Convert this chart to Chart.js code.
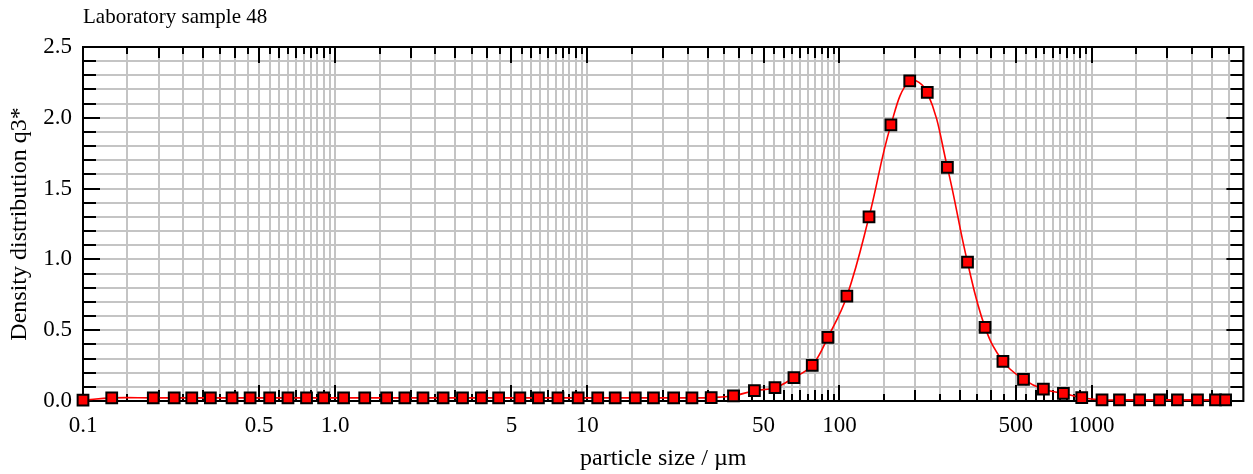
<!DOCTYPE html>
<html>
<head>
<meta charset="utf-8">
<title>Laboratory sample 48</title>
<script src="https://cdn.jsdelivr.net/npm/chart.js@4.4.1/dist/chart.umd.min.js"></script>
<style>
  html, body { margin: 0; padding: 0; background: #fff; }
  #wrap { width: 1253px; height: 474px; }
</style>
</head>
<body>
<div id="wrap"><canvas id="chart" width="1253" height="474"></canvas></div>
<script>
// Data
const particleSize = [
  0.1, 0.13, 0.19, 0.23, 0.27, 0.32, 0.39, 0.46, 0.55, 0.65, 0.77, 0.9,
  1.08, 1.31, 1.6, 1.89, 2.23, 2.68, 3.2, 3.8, 4.45, 5.4, 6.4, 7.65, 9.2,
  11, 12.9, 15.5, 18.3, 22, 26, 31, 38, 46, 55.5, 66, 78, 90,
  107, 131, 160, 190, 223, 268, 322, 378, 445, 537, 644, 773, 914,
  1100, 1290, 1550, 1860, 2190, 2630, 3100, 3400
];
const densityQ3 = [
  0.006, 0.022, 0.022, 0.022, 0.022, 0.022, 0.022, 0.022, 0.022, 0.022, 0.022, 0.022,
  0.022, 0.022, 0.022, 0.022, 0.022, 0.022, 0.022, 0.022, 0.022, 0.022, 0.022, 0.022, 0.022,
  0.022, 0.022, 0.022, 0.022, 0.022, 0.022, 0.024, 0.037, 0.073, 0.094, 0.165, 0.252, 0.45,
  0.74, 1.30, 1.95, 2.26, 2.18, 1.65, 0.98, 0.52, 0.28, 0.153, 0.083, 0.054, 0.023,
  0.008, 0.008, 0.008, 0.008, 0.008, 0.008, 0.008, 0.008
];

// Axis settings
const xMin = 0.1, xMax = 4000;
const yMin = 0, yMax = 2.5, yStep = 0.1;
const decades = [0.1, 1, 10, 100, 1000];
const gridSteps = [1, 1.5, 2, 2.5, 3, 3.5, 4, 4.5, 5, 5.5, 6, 6.5, 7, 7.5, 8, 8.5, 9, 9.5];
const xLabelValues = [0.1, 0.5, 1, 5, 10, 50, 100, 500, 1000];
const xLabelTexts = ['0.1', '0.5', '1.0', '5', '10', '50', '100', '500', '1000'];

const FONT = '"Liberation Serif", "Times New Roman", serif';

function mantissa(v) {
  const e = Math.floor(Math.log10(v) + 1e-9);
  return Math.round(v / Math.pow(10, e) * 100) / 100;
}

function xTickLength(v) {
  const m = mantissa(v);
  if (m === 1 || m === 5) return 16;
  if (Number.isInteger(m)) return 11;
  return 7;
}

function isHalfStep(v) {
  return Math.abs(v * 2 - Math.round(v * 2)) < 1e-6;
}

// Frame and inward tick marks on all four sides
const innerTicks = {
  id: 'innerTicks',
  beforeDatasetsDraw(chart) {
    const { ctx, chartArea: a, scales: { x, y } } = chart;
    ctx.save();
    ctx.strokeStyle = '#000';
    ctx.lineWidth = 2;
    ctx.beginPath();
    x.ticks.forEach(t => {
      const px = Math.round(x.getPixelForValue(t.value));
      if (px <= a.left + 1 || px >= a.right - 1) return;
      const len = xTickLength(t.value);
      ctx.moveTo(px, a.bottom); ctx.lineTo(px, a.bottom - len);
      ctx.moveTo(px, a.top); ctx.lineTo(px, a.top + len);
    });
    y.ticks.forEach(t => {
      const py = Math.round(y.getPixelForValue(t.value));
      if (py <= a.top + 1 || py >= a.bottom - 1) return;
      const len = isHalfStep(t.value) ? 17 : 13;
      ctx.moveTo(a.left, py); ctx.lineTo(a.left + len, py);
      ctx.moveTo(a.right, py); ctx.lineTo(a.right - len, py);
    });
    ctx.stroke();
    ctx.strokeRect(a.left, a.top, a.right - a.left, a.bottom - a.top);
    ctx.restore();
  }
};

const ctx = document.getElementById('chart');

new Chart(ctx, {
  type: 'line',
  data: {
    datasets: [{
      data: particleSize.map((s, i) => ({ x: s, y: densityQ3[i] })),
      borderColor: '#ff0000',
      borderWidth: 1.6,
      tension: 0.4,
      pointStyle: 'rect',
      pointRadius: 7.6,
      pointBackgroundColor: '#ff0000',
      pointBorderColor: '#000000',
      pointBorderWidth: 2,
      clip: false
    }]
  },
  options: {
    responsive: false,
    animation: false,
    layout: { padding: { left: 0, right: 8, top: 0, bottom: 0 } },
    plugins: {
      legend: { display: false },
      tooltip: { enabled: false },
      title: {
        display: true,
        text: 'Laboratory sample 48',
        align: 'start',
        fullSize: false,
        color: '#000',
        font: { family: FONT, size: 21, weight: 'normal' },
        padding: { top: 5, bottom: 16.8 }
      }
    },
    scales: {
      x: {
        type: 'logarithmic',
        min: xMin,
        max: xMax,
        afterBuildTicks(scale) {
          const vals = [];
          decades.forEach(d => gridSteps.forEach(s => {
            const v = +(s * d).toPrecision(6);
            if (v >= xMin && v <= xMax) vals.push(v);
          }));
          vals.push(xMax);
          scale.ticks = vals.map(v => ({ value: v }));
        },
        afterFit(scale) {
          scale.height = 73;
          scale.paddingRight = 0; // last tick has no label
        },
        grid: { color: '#c4c4c4', lineWidth: 2, drawTicks: false },
        border: { display: false },
        ticks: {
          autoSkip: false,
          maxRotation: 0,
          padding: 11,
          color: '#000',
          font: { family: FONT, size: 23 },
          callback(value) {
            const i = xLabelValues.findIndex(v => Math.abs(v - value) < 1e-9);
            return i >= 0 ? xLabelTexts[i] : '';
          }
        },
        title: {
          display: true,
          text: 'particle size / µm',
          color: '#000',
          font: { family: FONT, size: 24 },
          padding: { top: 0, bottom: 1 }
        }
      },
      y: {
        min: yMin,
        max: yMax,
        afterFit(scale) { scale.width = 83; },
        grid: { color: '#c4c4c4', lineWidth: 2, drawTicks: false },
        border: { display: false },
        ticks: {
          stepSize: yStep,
          autoSkip: false,
          padding: 11,
          color: '#000',
          font: { family: FONT, size: 23 },
          callback(value) {
            return isHalfStep(value) ? value.toFixed(1) : '';
          }
        },
        title: {
          display: true,
          text: 'Density distribution q3*',
          color: '#000',
          font: { family: FONT, size: 24 },
          padding: { top: 5, bottom: 0 }
        }
      }
    }
  },
  plugins: [innerTicks]
});
</script>
</body>
</html>
